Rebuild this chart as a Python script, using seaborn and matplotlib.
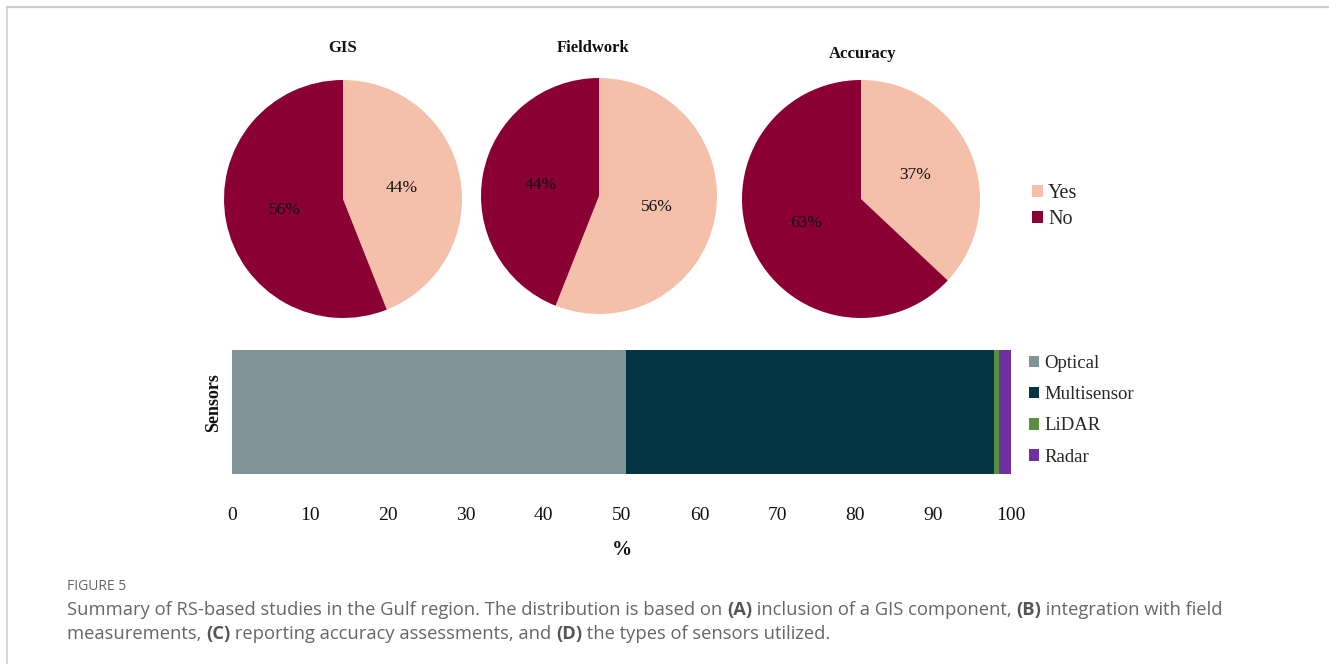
import matplotlib
matplotlib.use("Agg")
import matplotlib.pyplot as plt
import seaborn as sns
import pandas as pd
from matplotlib.lines import Line2D
from matplotlib.patches import Patch

# ---------------- data ----------------
pie_titles = ["GIS", "Fieldwork", "Accuracy"]
answer_labels = ["Yes", "No"]
gis_values = [44, 56]
fieldwork_values = [56, 44]
accuracy_values = [37, 63]

sensor_names = ["Optical", "Multisensor", "LiDAR", "Radar"]
sensor_shares = [50.6, 47.2, 0.6, 1.6]
x_ticks = [0, 10, 20, 30, 40, 50, 60, 70, 80, 90, 100]

answer_colors = ["#F4C0AA", "#8B0033"]
sensor_colors = ["#7F9399", "#023541", "#5A8E44", "#7130A0"]

caption_head = "FIGURE 5"
caption_line1 = [("Summary of RS-based studies in the Gulf region. The distribution is based on ", False),
                 ("(A)", True), (" inclusion of a GIS component, ", False),
                 ("(B)", True), (" integration with field", False)]
caption_line2 = [("measurements, ", False), ("(C)", True),
                 (" reporting accuracy assessments, and ", False), ("(D)", True),
                 (" the types of sensors utilized.", False)]

# ---------------- style ----------------
sns.set_theme(style="white")
SERIF = ["Liberation Serif", "DejaVu Serif"]
plt.rcParams["font.family"] = SERIF

W, H = 1329, 664
fig = plt.figure(figsize=(W / 100, H / 100), dpi=100)
fig.patch.set_facecolor("white")


def fx(px):
    return px / W


def fy(py):
    return 1 - py / H


# frame lines
fig.add_artist(Line2D([fx(7), fx(1329)], [fy(7), fy(7)], color="#cfcfcf", lw=1.6))
fig.add_artist(Line2D([fx(7), fx(7)], [fy(7), fy(664)], color="#cfcfcf", lw=1.2))

# ---------------- pies ----------------
pie_data = [gis_values, fieldwork_values, accuracy_values]
pie_geo = [(343, 199, 119), (599, 196, 118), (861, 199, 119)]
title_pos = [(343, 47), (593, 47), (863, 52)]

for vals, (cx, cy, r), title, (tx, ty) in zip(pie_data, pie_geo, pie_titles, title_pos):
    ax = fig.add_axes([fx(cx - r), fy(cy + r), 2 * r / W, 2 * r / H])
    ax.pie(vals, colors=answer_colors, startangle=90, counterclock=False,
           autopct=lambda p: f"{p:.0f}%", pctdistance=0.5,
           wedgeprops=dict(linewidth=0),
           textprops=dict(fontsize=12.5, color="#111111", family=SERIF))
    ax.set_xlim(-1, 1)
    ax.set_ylim(-1, 1)
    ax.set_aspect("auto")
    ax.axis("off")
    fig.text(fx(tx), fy(ty + 1.5), title, ha="center", va="center", family=SERIF,
             fontsize=12, fontweight="bold", color="#111111")

# Yes/No legend
fig.legend(handles=[Patch(facecolor=c, edgecolor="none") for c in answer_colors],
           labels=answer_labels, loc="upper left",
           bbox_to_anchor=(fx(1032), fy(184)), frameon=False,
           prop=dict(family=SERIF, size=14.5), handlelength=0.55, handleheight=0.55,
           handletextpad=0.25, labelspacing=0.37, borderpad=0, borderaxespad=0)

# ---------------- stacked bar ----------------
df = pd.DataFrame({"sensor": sensor_names, "share": sensor_shares, "color": sensor_colors})
df["cum"] = df["share"].cumsum()
df["group"] = "Sensors"

bx0, bx1, by0, by1 = 232.3, 1011, 350, 474
bax = fig.add_axes([fx(bx0), fy(by1), (bx1 - bx0) / W, (by1 - by0) / H])
for _, row in df.iloc[::-1].iterrows():
    sns.barplot(x=[row["cum"]], y=[row["group"]], orient="h", color=row["color"],
                saturation=1, width=1, linewidth=0, ax=bax)
bax.set_xlim(0, 100)
bax.set_ylim(0.5, -0.5)
bax.set_xticks(x_ticks)
bax.set_xticklabels([str(t) for t in x_ticks], family=SERIF)
bax.set_yticks([])
bax.tick_params(axis="x", length=0, pad=24, labelsize=14, labelcolor="#111111")
for s in bax.spines.values():
    s.set_visible(False)
bax.set_xlabel("%", fontsize=14.5, fontweight="bold", labelpad=11, color="#111111", family=SERIF)
bax.set_ylabel("Sensors", fontsize=13, fontweight="bold", color="#111111", family=SERIF)
bax.yaxis.set_label_coords(-0.0127, 0.573)

fig.legend(handles=[Patch(facecolor=c, edgecolor="none") for c in sensor_colors],
           labels=sensor_names, loc="upper left",
           bbox_to_anchor=(fx(1029), fy(355)), frameon=False,
           prop=dict(family=SERIF, size=13.5), handlelength=0.55, handleheight=0.55,
           handletextpad=0.25, labelspacing=0.76, borderpad=0, borderaxespad=0)

# ---------------- caption ----------------
fig.text(fx(67), fy(587), caption_head, ha="left", va="center",
         family="Open Sans", fontsize=10, color="#666666")

renderer = fig.canvas.get_renderer()


def rich_line(x_px, y_px, parts, size):
    x = x_px
    for s, bold in parts:
        t = fig.text(fx(x), fy(y_px), s, ha="left", va="center", family="Open Sans",
                     fontsize=size, fontweight="bold" if bold else "normal",
                     color="#555555" if bold else "#666666")
        bb = t.get_window_extent(renderer)
        x += bb.width


rich_line(67, 610, caption_line1, 13.2)
rich_line(67, 634, caption_line2, 13.2)

fig.savefig("out.png", dpi=100, facecolor="white")
